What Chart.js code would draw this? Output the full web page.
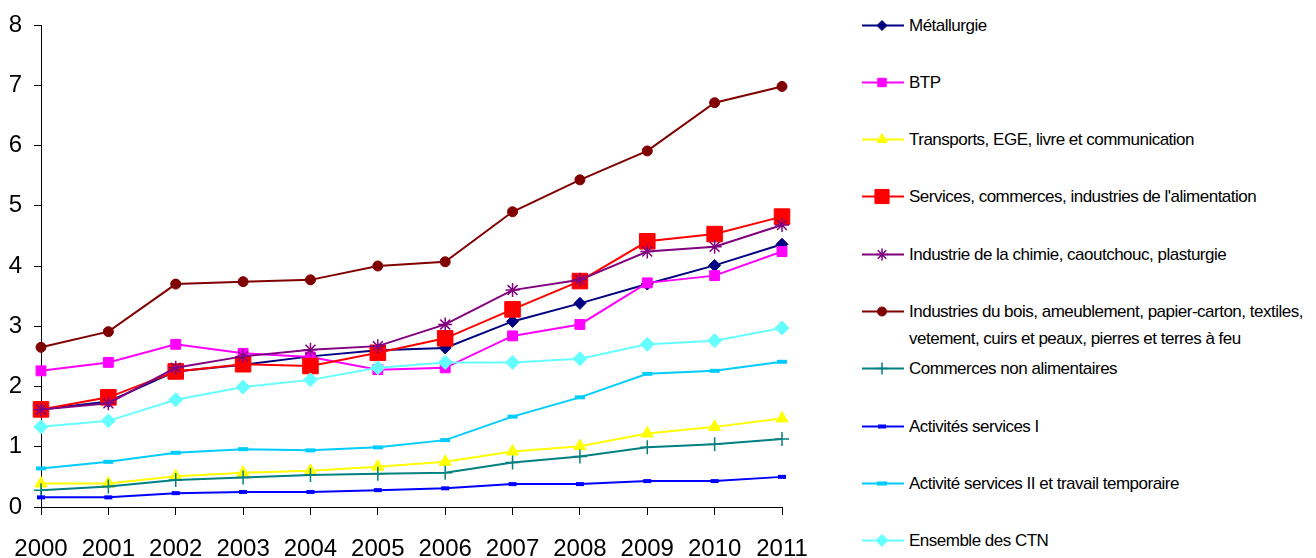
<!DOCTYPE html>
<html>
<head>
<meta charset="utf-8">
<script src="https://cdn.jsdelivr.net/npm/chart.js@4.4.1/dist/chart.umd.min.js"></script>
<style>
    html, body { margin: 0; padding: 0; background: #fff; }
    #wrap { position: relative; width: 1316px; height: 558px; overflow: hidden; }
    #chartBox { position: absolute; left: 0; top: 0; width: 830px; height: 558px; }
    #legend {
        position: absolute; left: 862px; top: 0; width: 454px; height: 558px;
        font-family: "Liberation Sans", Arial, sans-serif;
        font-size: 17px; letter-spacing: -0.5px; color: #000;
    }
    .item { position: absolute; left: 0; display: flex; align-items: flex-start; }
    .item canvas { flex: none; }
    .item span { line-height: 27px; width: 410px; margin-left: 3px; }
</style>
</head>
<body>
<div id="wrap">
    <div id="chartBox"><canvas id="ctnChart"></canvas></div>
    <div id="legend"></div>
</div>
<script>
// années
const years = ['2000', '2001', '2002', '2003', '2004', '2005', '2006', '2007', '2008', '2009', '2010', '2011'];

// valeurs par CTN
const metallurgie   = [1.62, 1.75, 2.25, 2.36, 2.50, 2.60, 2.64, 3.08, 3.38, 3.70, 4.01, 4.36];
const btp           = [2.26, 2.40, 2.70, 2.55, 2.49, 2.28, 2.31, 2.84, 3.03, 3.72, 3.84, 4.24];
const transports    = [0.39, 0.39, 0.51, 0.57, 0.60, 0.67, 0.75, 0.92, 1.01, 1.22, 1.33, 1.47];
const alimentation  = [1.62, 1.82, 2.25, 2.37, 2.34, 2.56, 2.80, 3.28, 3.75, 4.41, 4.53, 4.82];
const chimie        = [1.62, 1.72, 2.31, 2.50, 2.61, 2.67, 3.03, 3.60, 3.77, 4.24, 4.32, 4.68];
const bois          = [2.65, 2.91, 3.70, 3.74, 3.77, 4.00, 4.07, 4.90, 5.43, 5.91, 6.71, 6.98];
const commercesNonA = [0.28, 0.34, 0.45, 0.49, 0.53, 0.55, 0.57, 0.74, 0.84, 0.99, 1.04, 1.13];
const servicesI     = [0.16, 0.16, 0.23, 0.25, 0.25, 0.28, 0.31, 0.38, 0.38, 0.43, 0.43, 0.50];
const servicesII    = [0.64, 0.75, 0.90, 0.96, 0.94, 0.99, 1.11, 1.50, 1.82, 2.21, 2.26, 2.41];
const ensembleCTN   = [1.33, 1.43, 1.78, 1.99, 2.11, 2.31, 2.40, 2.40, 2.46, 2.70, 2.76, 2.97];

const labels = [
    'Métallurgie',
    'BTP',
    'Transports, EGE, livre et communication',
    "Services, commerces, industries de l'alimentation",
    'Industrie de la chimie, caoutchouc, plasturgie',
    'Industries du bois, ameublement, papier-carton, textiles, vetement, cuirs et peaux, pierres et terres à feu',
    'Commerces non alimentaires',
    'Activités services I',
    'Activité services II et travail temporaire',
    'Ensemble des CTN'
];
const yTicks = [0, 1, 2, 3, 4, 5, 6, 7, 8];

const series = [metallurgie, btp, transports, alimentation, chimie, bois, commercesNonA, servicesI, servicesII, ensembleCTN];

// style de chaque série (couleur, marqueur, taille)
const styles = [
    { color: '#000080', point: 'rectRot',  radius: 6,  bw: 1, legendRadius: 5 },
    { color: '#FF00FF', point: 'rect',     radius: 7,  bw: 1, legendRadius: 6 },
    { color: '#FFFF00', point: 'triangle', radius: 7,  bw: 1, legendRadius: 6 },
    { color: '#FF0000', point: 'rect',     radius: 11, bw: 1, legendRadius: 10 },
    { color: '#800080', point: 'star',     radius: 7,  bw: 1.5, legendRadius: 6 },
    { color: '#800000', point: 'circle',   radius: 5,  bw: 1, legendRadius: 4.5 },
    { color: '#008080', point: 'cross',    radius: 7,  bw: 1.5, legendRadius: 6 },
    { color: '#0000FF', point: 'line',     radius: 4,  bw: 4, legendRadius: 4 },
    { color: '#00CCFF', point: 'line',     radius: 5,  bw: 4, legendRadius: 5 },
    { color: '#66FFFF', point: 'rectRot',  radius: 7,  bw: 1, legendRadius: 6 }
];

const datasets = series.map((values, i) => ({
    label: labels[i],
    data: values,
    borderColor: styles[i].color,
    backgroundColor: styles[i].color,
    borderWidth: 2,
    pointStyle: styles[i].point,
    pointRadius: styles[i].radius,
    pointHoverRadius: styles[i].radius,
    pointBorderWidth: styles[i].bw,
    pointBackgroundColor: styles[i].color,
    pointBorderColor: styles[i].color,
    tension: 0,
    order: series.length - i
}));

const tickFont = { family: "'Liberation Sans', Arial, sans-serif", size: 24 };

new Chart(document.getElementById('ctnChart').getContext('2d'), {
    type: 'line',
    data: { labels: years, datasets: datasets },
    options: {
        responsive: true,
        maintainAspectRatio: false,
        animation: false,
        layout: { autoPadding: false, padding: { top: 25, right: 48, left: 0, bottom: 0 } },
        plugins: { legend: { display: false }, tooltip: { enabled: false } },
        scales: {
            x: {
                offset: false,
                grid: { drawOnChartArea: false, drawTicks: true, tickLength: 8, color: '#000', lineWidth: 1 },
                border: { color: '#000', width: 1 },
                ticks: { color: '#000', font: tickFont, padding: 20, maxRotation: 0, autoSkip: false },
                afterFit: scale => {
                    scale.height = 51;
                    scale.paddingLeft = 0;
                    scale.paddingRight = 0;
                }
            },
            y: {
                min: 0,
                max: 8,
                afterBuildTicks: scale => { scale.ticks = yTicks.map(v => ({ value: v })); },
                grid: { drawOnChartArea: false, drawTicks: true, tickLength: 7, color: '#000', lineWidth: 1 },
                border: { color: '#000', width: 1 },
                ticks: { color: '#000', font: tickFont, padding: 12 },
                afterFit: scale => {
                    scale.width = 41;
                    scale.paddingTop = 0;
                    scale.paddingBottom = 0;
                }
            }
        }
    }
});

// légende à droite, en HTML
function drawLegend() {
    const box = document.getElementById('legend');
    const drawPoint = Chart.helpers && Chart.helpers.drawPoint;
    labels.forEach((text, i) => {
        const item = document.createElement('div');
        item.className = 'item';
        item.style.top = (25 + i * 57.3 - 13.5) + 'px';

        const sw = document.createElement('canvas');
        sw.width = 44;
        sw.height = 27;
        const c = sw.getContext('2d');
        const st = styles[i];
        c.strokeStyle = st.color;
        c.fillStyle = st.color;
        c.lineWidth = 2;
        c.beginPath();
        c.moveTo(0, 13.5);
        c.lineTo(42, 13.5);
        c.stroke();
        c.lineWidth = st.bw;
        if (drawPoint) {
            drawPoint(c, { pointStyle: st.point, radius: st.legendRadius, borderWidth: st.bw, rotation: 0 }, 20, 13.5);
        } else {
            c.beginPath();
            c.arc(20, 13.5, st.legendRadius, 0, Math.PI * 2);
            c.fill();
        }

        const span = document.createElement('span');
        span.textContent = text;
        item.appendChild(sw);
        item.appendChild(span);
        box.appendChild(item);
    });
}
drawLegend();
</script>
</body>
</html>
